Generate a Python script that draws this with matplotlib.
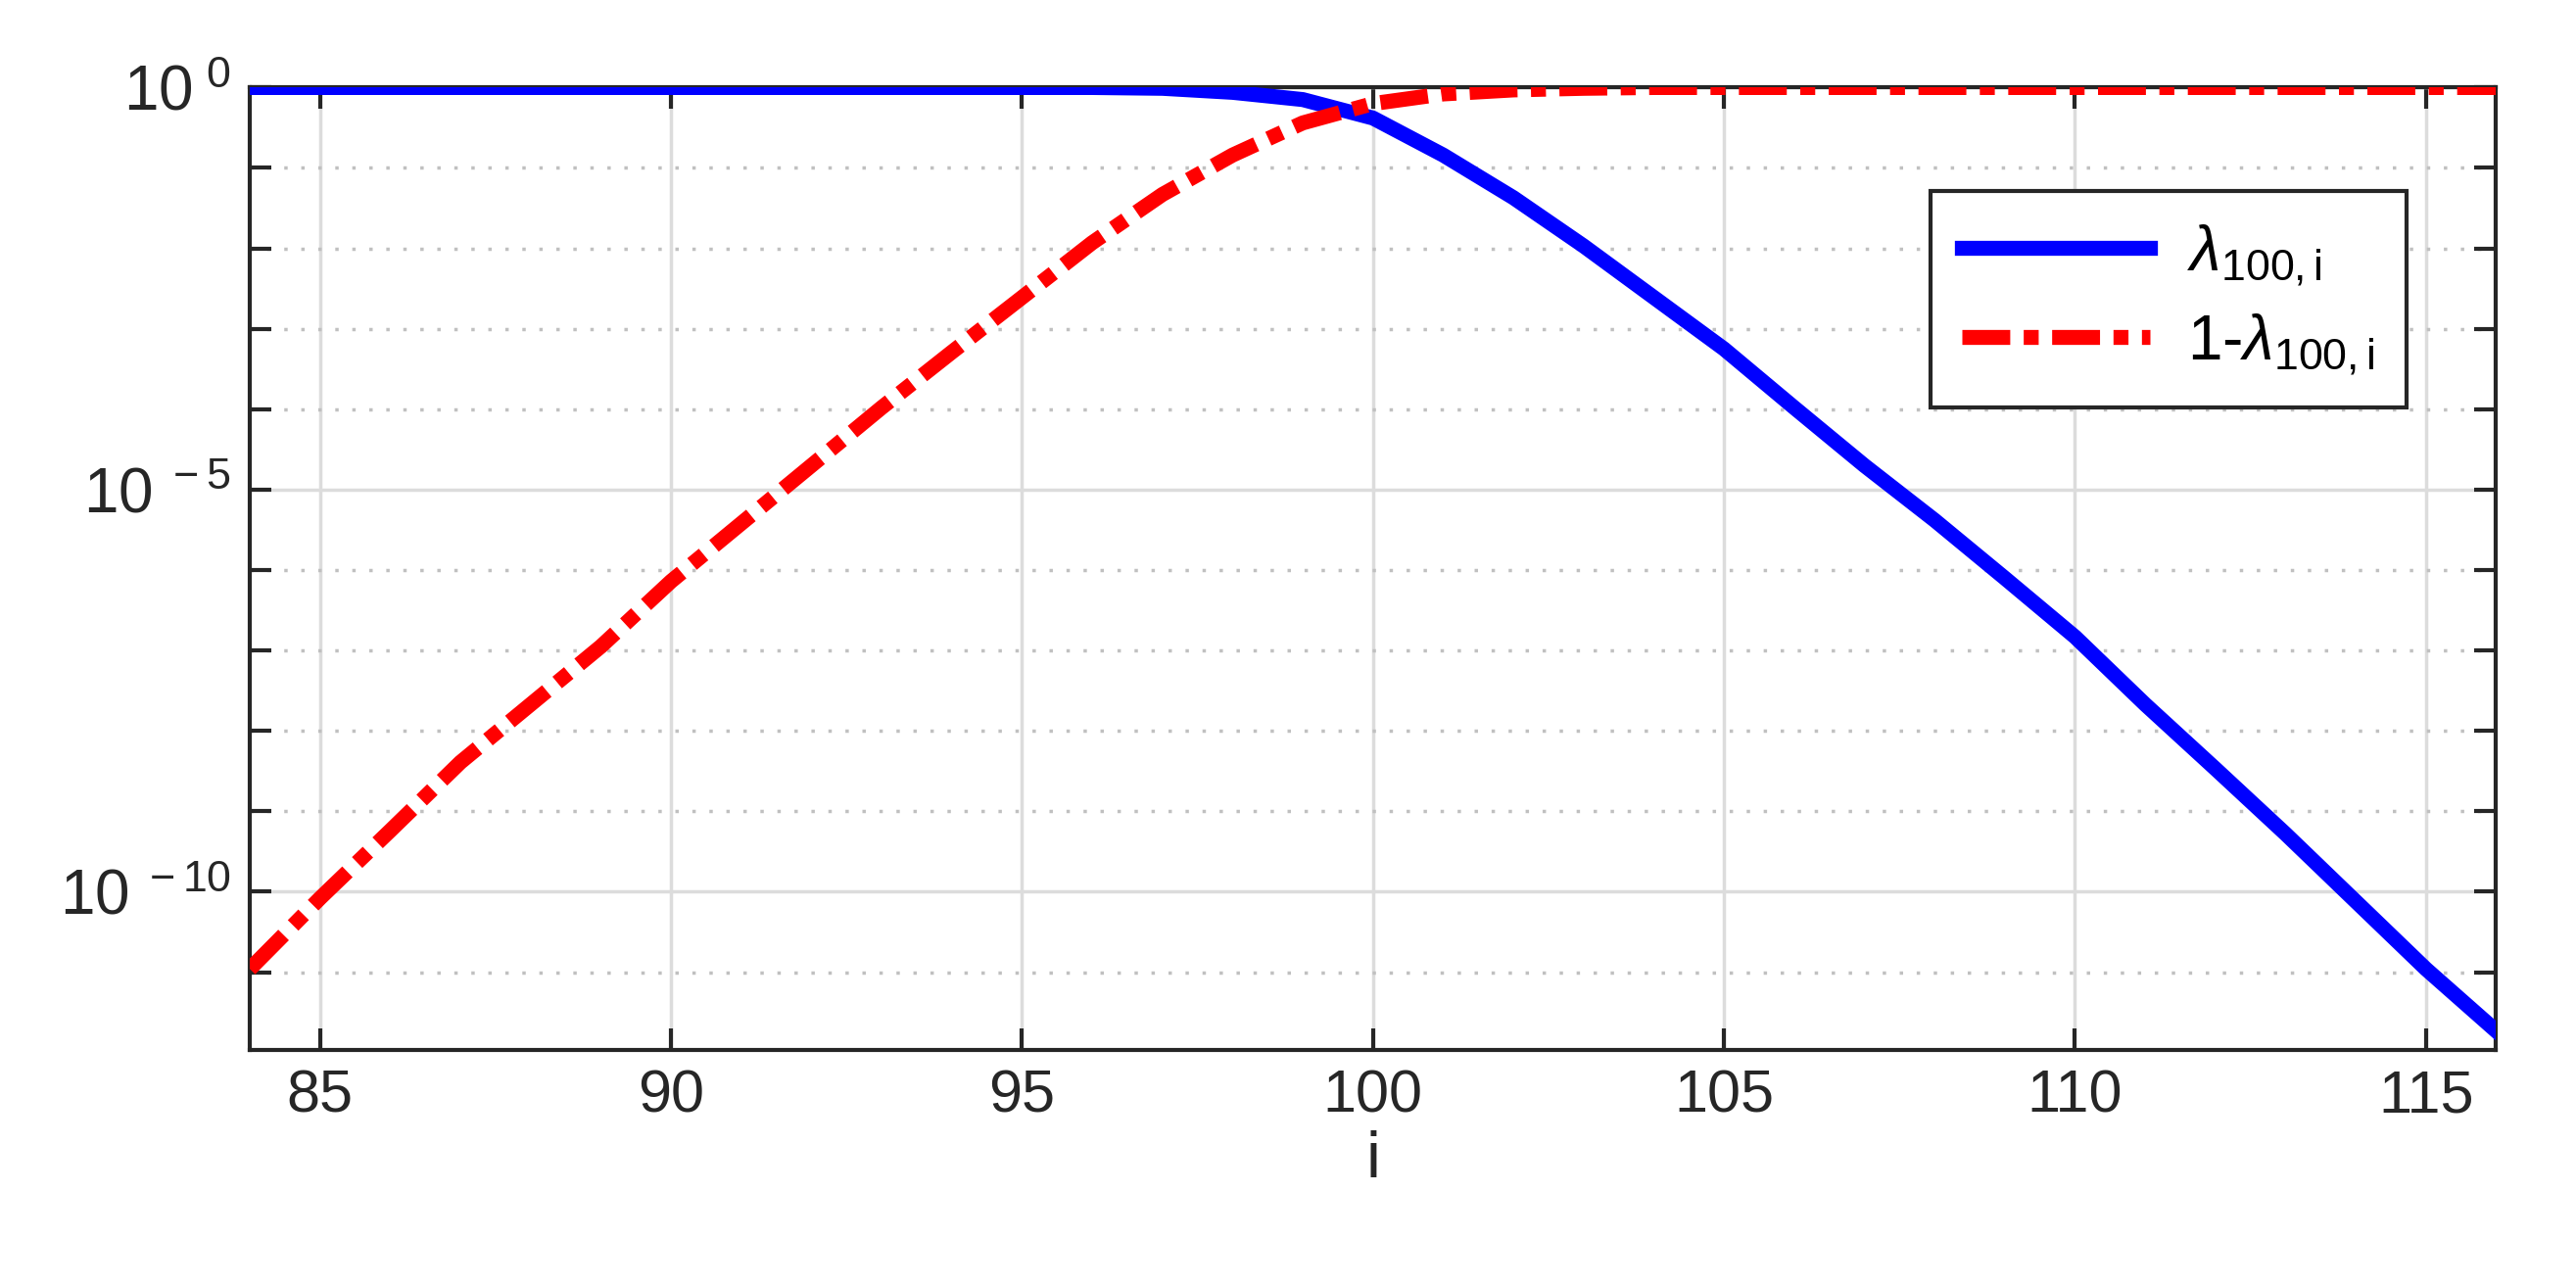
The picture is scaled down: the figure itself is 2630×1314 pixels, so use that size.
import numpy as np
import matplotlib
matplotlib.use("Agg")
import matplotlib.pyplot as plt
from matplotlib.ticker import FixedLocator, NullFormatter

i_vals = np.arange(84, 117)
# log10 of lambda_{100,i}
log_lam = [0, 0, 0, 0, 0, 0, 0, 0, 0, 0, 0, 0, 0, -0.01, -0.06, -0.15, -0.38,
           -0.84, -1.37, -1.97, -2.61, -3.25, -3.98, -4.70, -5.38, -6.10, -6.83,
           -7.67, -8.47, -9.28, -10.12, -10.96, -11.73]
# log10 of 1 - lambda_{100,i}
log_one_minus = [-10.96, -10.08, -9.24, -8.39, -7.67, -6.95, -6.14, -5.42, -4.70,
                 -3.98, -3.29, -2.61, -1.93, -1.33, -0.84, -0.44, -0.20, -0.08,
                 -0.03, -0.01, 0, 0, 0, 0, 0, 0, 0, 0, 0, 0, 0, 0, 0]

plt.rcParams['font.family'] = ['Liberation Sans', 'DejaVu Sans']
plt.rcParams['mathtext.fontset'] = 'custom'
plt.rcParams['mathtext.rm'] = 'Liberation Sans'
plt.rcParams['mathtext.it'] = 'Liberation Sans:italic'
plt.rcParams['axes.unicode_minus'] = False

fig = plt.figure(figsize=(26.3, 13.14), dpi=100)
ax = fig.add_axes([0.097, 0.184, 0.872, 0.748])

lam = 10.0 ** np.array(log_lam)
om = 10.0 ** np.array(log_one_minus)
ax.plot(i_vals, lam, color='#0000ff', lw=11, solid_joinstyle='round',
        label=r'$\lambda_{\mathregular{100,i}}$', zorder=3)
ax.plot(i_vals, om, color='#ff0000', lw=11, linestyle=(0, (3.2, 0.9, 1.0, 0.9)),
        label=r'1-$\lambda_{\mathregular{100,i}}$', zorder=3)

ax.set_yscale('log')
ax.set_xlim(84, 116)
ax.set_ylim(10 ** -11.97, 1.0)
ax.set_xticks([85, 90, 95, 100, 105, 110, 115])
ax.yaxis.set_major_locator(FixedLocator([1e-10, 1e-5, 1e0]))
ax.yaxis.set_minor_locator(FixedLocator([10.0 ** k for k in range(-11, 0) if k not in (-10, -5)]))
ax.yaxis.set_minor_formatter(NullFormatter())
ax.set_yticklabels([r'$\mathregular{10^{\ -10}}$', r'$\mathregular{10^{\ -5}}$', r'$\mathregular{10^{\ 0}}$'])

ax.grid(True, which='major', color='#dcdcdc', lw=2.5, zorder=0)
ax.grid(True, which='minor', axis='y', color='#c0c0c0', lw=2.5, linestyle=(0, (1, 4)), zorder=0)
ax.tick_params(axis='both', which='both', direction='in', top=True, right=True,
               length=16, width=3, colors='#262626', labelsize=44, pad=14)
ax.tick_params(axis='y', labelsize=46)
for s in ax.spines.values():
    s.set_linewidth(3)
    s.set_color('#262626')
ax.set_xlabel('i', fontsize=48, color='#262626', labelpad=4)

leg = ax.legend(loc='upper right', bbox_to_anchor=(0.974, 0.925), fontsize=46,
                fancybox=False, framealpha=1, edgecolor='#262626',
                handlelength=3.0, borderpad=0.5, labelspacing=0.4, handletextpad=0.6)
leg.get_frame().set_linewidth(3)

fig.savefig('out.png', dpi=100)
